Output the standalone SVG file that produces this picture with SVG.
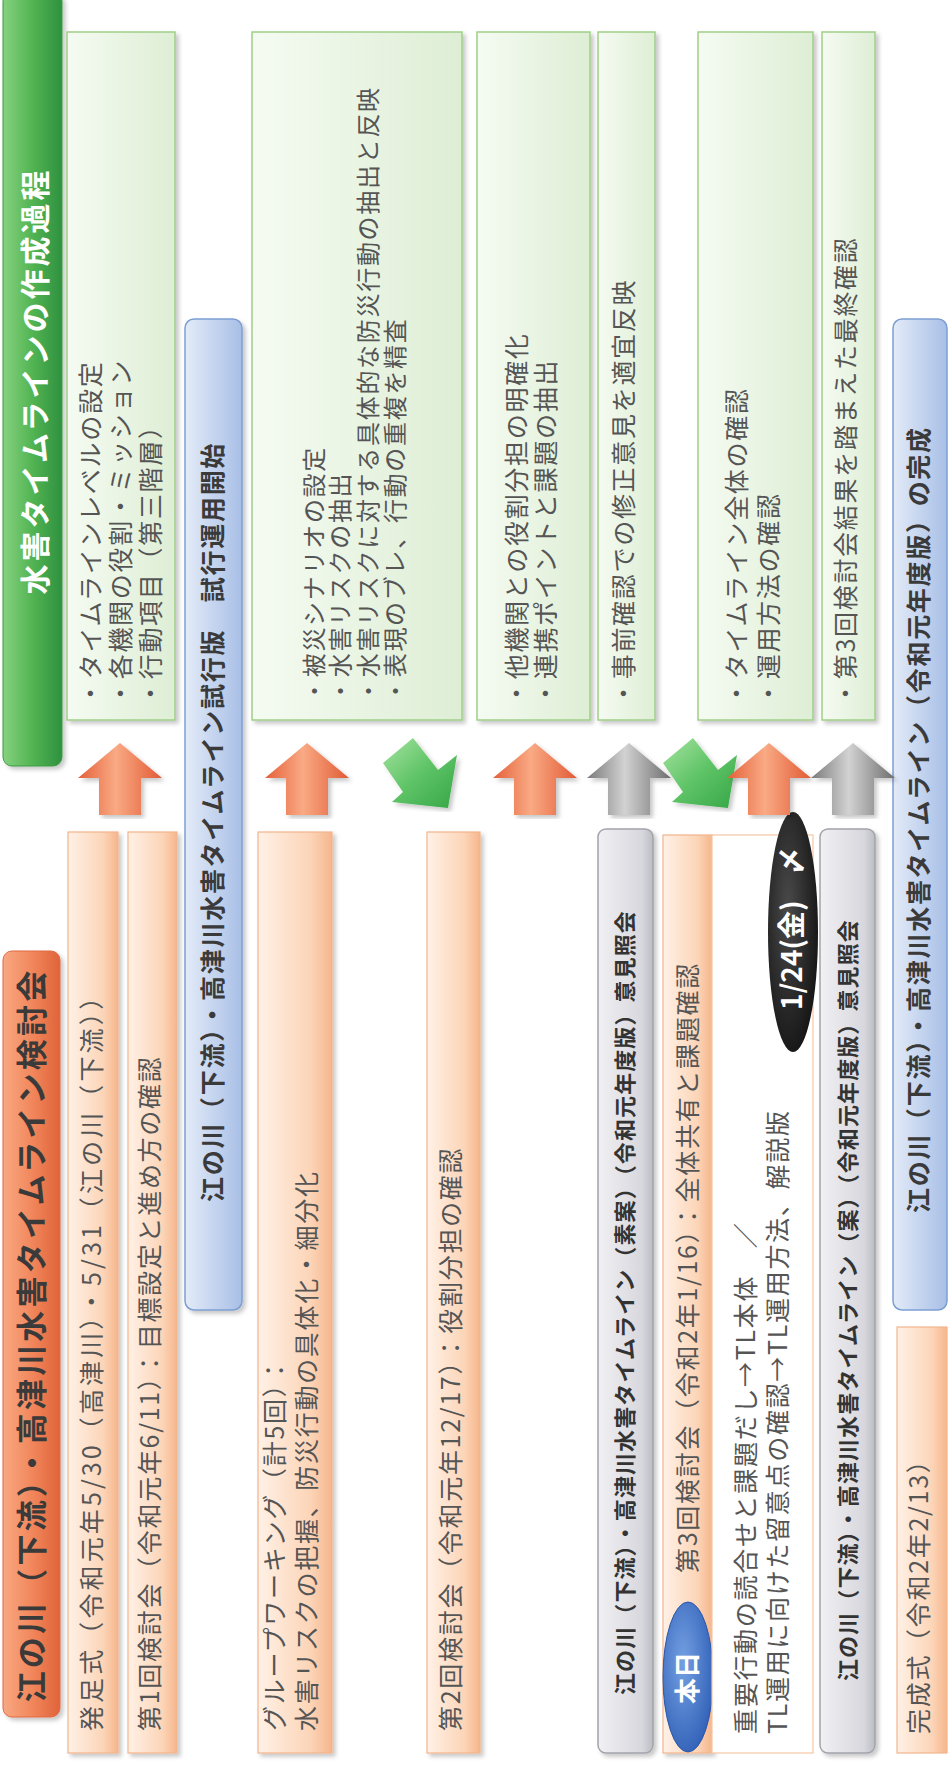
<svg xmlns="http://www.w3.org/2000/svg" width="948" height="1769" viewBox="0 0 948 1769">
<defs>
<linearGradient id="gGreenBar" x1="0" y1="0" x2="1" y2="0"><stop offset="0" stop-color="#86d27f"/><stop offset="0.5" stop-color="#52b452"/><stop offset="1" stop-color="#2e9140"/></linearGradient>
<linearGradient id="gOrangeTitle" x1="0" y1="0" x2="1" y2="0"><stop offset="0" stop-color="#f8a983"/><stop offset="0.5" stop-color="#f2875c"/><stop offset="1" stop-color="#e0633a"/></linearGradient>
<linearGradient id="gGreenBox" x1="0" y1="0" x2="1" y2="0"><stop offset="0" stop-color="#f5fbf2"/><stop offset="1" stop-color="#deeed5"/></linearGradient>
<linearGradient id="gOrangeBox" x1="0" y1="0" x2="1" y2="0"><stop offset="0" stop-color="#fff1e6"/><stop offset="0.7" stop-color="#fcd5b8"/><stop offset="1" stop-color="#f6b68c"/></linearGradient>
<linearGradient id="gBlue" x1="0" y1="0" x2="1" y2="0"><stop offset="0" stop-color="#e3ebf8"/><stop offset="1" stop-color="#a8bfe6"/></linearGradient>
<linearGradient id="gGray" x1="0" y1="0" x2="1" y2="0"><stop offset="0" stop-color="#f1f1f4"/><stop offset="0.8" stop-color="#d7d7dd"/><stop offset="1" stop-color="#bcbcc4"/></linearGradient>
<linearGradient id="gArrO" x1="0" y1="0" x2="1" y2="0"><stop offset="0" stop-color="#e4603a"/><stop offset="0.45" stop-color="#f9aa84"/><stop offset="1" stop-color="#e15a35"/></linearGradient>
<linearGradient id="gArrGr" x1="0" y1="0" x2="1" y2="0"><stop offset="0" stop-color="#7a7a7a"/><stop offset="0.45" stop-color="#d2d2d2"/><stop offset="1" stop-color="#6d6d6d"/></linearGradient>
<linearGradient id="gArrGreen" x1="0" y1="0" x2="1" y2="1"><stop offset="0" stop-color="#a6e3a0"/><stop offset="0.5" stop-color="#5fc467"/><stop offset="1" stop-color="#35a646"/></linearGradient>
<radialGradient id="gBlack" cx="0.4" cy="0.4" r="0.7"><stop offset="0" stop-color="#4a4a4a"/><stop offset="1" stop-color="#111"/></radialGradient>
<radialGradient id="gBlueEll" cx="0.4" cy="0.4" r="0.7"><stop offset="0" stop-color="#74a0e2"/><stop offset="1" stop-color="#2d5db5"/></radialGradient>
<filter id="sh" x="-20%" y="-5%" width="140%" height="110%"><feDropShadow dx="3" dy="3" stdDeviation="2" flood-color="#000" flood-opacity="0.22"/></filter>
<path id="upArrow" d="M0,0 L42,35 L21,35 L21,72 L-21,72 L-21,35 L-42,35 Z"/>
<path id="greenArrow" d="M383,763 L413,738 L438,770 L457,755 L448,808 L392,802 L403,792 Z"/>
</defs>
<style>
text{font-family:'Noto Sans CJK JP','Noto Sans CJK SC',sans-serif;dominant-baseline:central}
.b{font-size:25px;fill:#555;letter-spacing:1.7px}
.b2{font-size:24px;fill:#555;letter-spacing:1.7px}
.bb{font-size:25px;font-weight:bold;fill:#3a3a3a;letter-spacing:1.7px}
.gb{font-size:22px;font-weight:bold;fill:#333;letter-spacing:1.1px}
.tg{font-size:30px;font-weight:bold;fill:#fff;letter-spacing:3px}
.to{font-size:31px;font-weight:bold;fill:#3a3a3a;letter-spacing:3.2px}
.wb{font-weight:bold;fill:#fff}
.grn{fill:url(#gGreenBox);stroke:#9fcf88;stroke-width:1.5}
.org{fill:url(#gOrangeBox);stroke:#f2b48c;stroke-width:1.2}
.blu{fill:url(#gBlue);stroke:#7d9ed2;stroke-width:1.5}
.gry{fill:url(#gGray);stroke:#a3a3ab;stroke-width:1.5}
</style>
<rect width="948" height="1769" fill="#fff"/>

<g id="title-process">
<rect x="3" y="-8" width="59" height="774" rx="9" fill="url(#gGreenBar)" stroke="#3f9a45" filter="url(#sh)"/>
<text class="tg" transform="translate(33,381) rotate(-90)" text-anchor="middle">水害タイムラインの作成過程</text>
</g>
<g id="title-meeting">
<rect x="3" y="951" width="57" height="766" rx="9" fill="url(#gOrangeTitle)" stroke="#e06a40" filter="url(#sh)"/>
<text class="to" transform="translate(29,1335) rotate(-90)" text-anchor="middle">江の川（下流）・高津川水害タイムライン検討会</text>
</g>

<g id="outcome1">
<rect class="grn" x="67" y="32" width="108" height="688" filter="url(#sh)"/>
<text class="b" transform="translate(88.5,706) rotate(-90)">・タイムラインレベルの設定</text>
<text class="b" transform="translate(118.5,706) rotate(-90)">・各機関の役割・ミッション</text>
<text class="b" transform="translate(148.5,706) rotate(-90)">・行動項目（第三階層）</text>
</g>
<g id="outcome2">
<rect class="grn" x="252" y="32" width="210" height="688" filter="url(#sh)"/>
<text class="b2" transform="translate(312,703) rotate(-90)">・被災シナリオの設定</text>
<text class="b2" transform="translate(338,703) rotate(-90)">・水害リスクの抽出</text>
<text class="b2" transform="translate(366,703) rotate(-90)">・水害リスクに対する具体的な防災行動の抽出と反映</text>
<text class="b2" transform="translate(393,703) rotate(-90)">・表現のブレ、行動の重複を精査</text>
</g>
<g id="outcome3">
<rect class="grn" x="477" y="32" width="113" height="688" filter="url(#sh)"/>
<text class="b" transform="translate(515,706) rotate(-90)">・他機関との役割分担の明確化</text>
<text class="b" transform="translate(544,706) rotate(-90)">・連携ポイントと課題の抽出</text>
</g>
<g id="outcome4">
<rect class="grn" x="598" y="32" width="57" height="688" filter="url(#sh)"/>
<text class="b" transform="translate(621.5,706) rotate(-90)">・事前確認での修正意見を適宜反映</text>
</g>
<g id="outcome5">
<rect class="grn" x="698" y="32" width="115" height="688" filter="url(#sh)"/>
<text class="b" transform="translate(735,706) rotate(-90)">・タイムライン全体の確認</text>
<text class="b" transform="translate(766.5,706) rotate(-90)">・運用方法の確認</text>
</g>
<g id="outcome6">
<rect class="grn" x="822" y="32" width="53" height="688" filter="url(#sh)"/>
<text class="b" transform="translate(843.5,706) rotate(-90)">・第3回検討会結果を踏まえた最終確認</text>
</g>

<g id="kickoff">
<rect class="org" x="68" y="832" width="50" height="921" filter="url(#sh)"/>
<text class="b" transform="translate(90,1731) rotate(-90)" textLength="748">発足式（令和元年5/30（高津川）・5/31（江の川（下流））</text>
</g>
<g id="meeting1">
<rect class="org" x="128" y="832" width="49" height="921" filter="url(#sh)"/>
<text class="b" transform="translate(147.5,1731) rotate(-90)">第1回検討会（令和元年6/11）：目標設定と進め方の確認</text>
</g>
<g id="trial-version">
<rect class="blu" x="185" y="319" width="57" height="991" rx="9" filter="url(#sh)"/>
<text class="bb" transform="translate(211,1202) rotate(-90)">江の川（下流）・高津川水害タイムライン試行版　試行運用開始</text>
</g>
<g id="group-working">
<rect class="org" x="258" y="832" width="74" height="921" filter="url(#sh)"/>
<text class="b" transform="translate(273,1731) rotate(-90)">グループワーキング（計5回）：</text>
<text class="b" transform="translate(305,1731) rotate(-90)">水害リスクの把握、防災行動の具体化・細分化</text>
</g>
<g id="meeting2">
<rect class="org" x="427" y="832" width="53" height="921" filter="url(#sh)"/>
<text class="b" transform="translate(448.5,1731) rotate(-90)">第2回検討会（令和元年12/17）：役割分担の確認</text>
</g>
<g id="inquiry1">
<rect class="gry" x="598" y="829" width="55" height="924" rx="8" filter="url(#sh)"/>
<text class="gb" transform="translate(623,1695) rotate(-90)">江の川（下流）・高津川水害タイムライン（素案）（令和元年度版）意見照会</text>
</g>
<g id="meeting3">
<rect class="org" x="663" y="835" width="49" height="918" filter="url(#sh)"/>
<text class="b" transform="translate(686,1573) rotate(-90)">第3回検討会（令和2年1/16）：全体共有と課題確認</text>
</g>
<g id="today">
<ellipse cx="688" cy="1677" rx="25" ry="75" fill="url(#gBlueEll)" stroke="#2a56a8" stroke-width="1"/>
<text class="wb" font-size="26" transform="translate(685,1678) rotate(-90)" text-anchor="middle">本日</text>
</g>
<g id="meeting3-detail">
<rect x="712" y="835" width="101" height="918" fill="#fff" stroke="#f6c6a4" stroke-width="1.2"/>
<text class="b" transform="translate(743.5,1734) rotate(-90)">重要行動の読合せと課題だし→TL本体　／</text>
<text class="b" transform="translate(776,1734) rotate(-90)">TL運用に向けた留意点の確認→TL運用方法、解説版</text>
</g>
<g id="deadline">
<ellipse cx="793" cy="932" rx="25" ry="120" fill="url(#gBlack)"/>
<text class="wb" font-size="28" transform="translate(790,1010) rotate(-90)">1/24(金)</text>
<text class="wb" font-size="28" transform="translate(790,861) rotate(-90)" text-anchor="middle">〆</text>
</g>
<g id="inquiry2">
<rect class="gry" x="820" y="829" width="55" height="924" rx="8" filter="url(#sh)"/>
<text class="gb" transform="translate(846,1681) rotate(-90)">江の川（下流）・高津川水害タイムライン（案）（令和元年度版）意見照会</text>
</g>
<g id="final-version">
<rect class="blu" x="893" y="319" width="54" height="991" rx="9"/>
<text class="bb" transform="translate(916.5,1213) rotate(-90)">江の川（下流）・高津川水害タイムライン（令和元年度版）の完成</text>
</g>
<g id="completion">
<rect class="org" x="897" y="1327" width="50" height="426"/>
<text class="b" transform="translate(916.5,1734) rotate(-90)">完成式（令和2年2/13）</text>
</g>

<g id="connectors">
<use href="#upArrow" transform="translate(120,743)" fill="url(#gArrO)" filter="url(#sh)"/>
<use href="#upArrow" transform="translate(307,743)" fill="url(#gArrO)" filter="url(#sh)"/>
<use href="#greenArrow" fill="url(#gArrGreen)" filter="url(#sh)"/>
<use href="#upArrow" transform="translate(535,743)" fill="url(#gArrO)" filter="url(#sh)"/>
<use href="#upArrow" transform="translate(629,743)" fill="url(#gArrGr)" filter="url(#sh)"/>
<use href="#greenArrow" transform="translate(280,0)" fill="url(#gArrGreen)" filter="url(#sh)"/>
<use href="#upArrow" transform="translate(769,743)" fill="url(#gArrO)" filter="url(#sh)"/>
<use href="#upArrow" transform="translate(853,743)" fill="url(#gArrGr)" filter="url(#sh)"/>
</g>
</svg>
